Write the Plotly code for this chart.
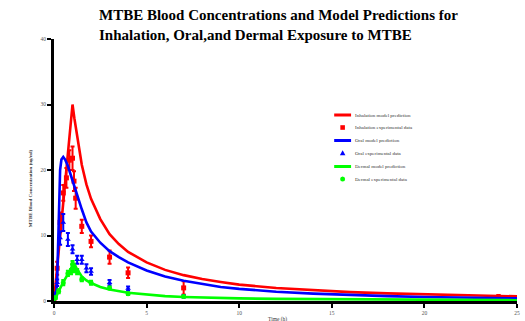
import plotly.graph_objects as go

# ---------------- data ----------------
inh_model_t = [0, 0.25, 0.5, 0.75, 1.0, 1.1, 1.25, 1.5, 1.75, 2.0, 2.5, 3.0, 3.5, 4.0, 5.0, 6.0, 7.0,
               8.0, 9.0, 10, 12, 14, 16, 18, 20, 22, 24, 25]
inh_model_v = [0, 7.3, 14.8, 22.2, 30.0, 27.9, 25.2, 20.8, 17.8, 15.6, 12.5, 10.2, 8.7, 7.5, 5.9, 4.75, 3.95,
               3.35, 2.9, 2.5, 1.98, 1.62, 1.36, 1.16, 1.0, 0.87, 0.76, 0.72]

inh_exp_t = [0.0, 0.17, 0.33, 0.5, 0.67, 0.83, 1.0, 1.08, 1.17, 1.5, 2.0, 3.0, 4.0, 7.0, 24.0]
inh_exp_v = [0.3, 5.0, 12.0, 16.5, 18.8, 21.5, 21.8, 18.3, 15.7, 11.4, 9.1, 6.7, 4.3, 2.0, 0.6]
inh_exp_e = [0.2, 1.0, 1.5, 1.2, 1.5, 1.5, 1.8, 1.5, 1.6, 1.0, 0.9, 1.0, 0.8, 1.0, 0.3]

oral_model_t = [0, 0.1, 0.17, 0.22, 0.27, 0.33, 0.4, 0.5, 0.6, 0.75, 1.0, 1.25, 1.5, 1.75, 2.0, 2.5, 3.0,
                3.5, 4.0, 5.0, 6.0, 7.0, 8.0, 9.0, 10, 12, 14, 16, 18, 20, 22, 24, 25]
oral_model_v = [0, 0.6, 3.0, 9.5, 16.0, 20.0, 21.6, 22.0, 21.6, 20.6, 18.4, 16.1, 14.0, 12.0, 10.6, 8.9, 7.6,
                6.7, 5.9, 4.65, 3.75, 3.1, 2.6, 2.15, 1.85, 1.42, 1.12, 0.9, 0.74, 0.62, 0.52, 0.44, 0.41]

oral_exp_t = [0.08, 0.17, 0.33, 0.5, 0.75, 1.0, 1.25, 1.5, 1.75, 2.0, 3.0, 4.0, 7.0]
oral_exp_v = [1.0, 2.8, 9.6, 12.0, 9.4, 7.9, 6.3, 6.3, 5.0, 4.5, 2.8, 1.9, 0.7]
oral_exp_e = [0.3, 0.5, 1.0, 1.3, 1.0, 0.6, 0.6, 0.6, 0.6, 0.5, 0.4, 0.3, 0.2]

derm_model_t = [0, 0.25, 0.5, 0.75, 1.0, 1.08, 1.25, 1.5, 1.75, 2.0, 2.5, 3.0, 4.0, 5.0, 6.0, 7.0, 8.0,
                10, 12, 15, 18, 21, 25]
derm_model_v = [0, 1.5, 2.9, 4.1, 5.5, 5.8, 4.8, 3.75, 3.15, 2.75, 2.15, 1.75, 1.25, 0.95, 0.75, 0.62, 0.52,
                0.4, 0.32, 0.25, 0.2, 0.16, 0.12]

derm_exp_t = [0.08, 0.25, 0.5, 0.75, 0.92, 1.0, 1.08, 1.25, 1.5, 2.0, 3.0, 4.0, 7.0]
derm_exp_v = [0.5, 1.5, 2.8, 4.2, 4.5, 5.6, 4.8, 4.5, 3.3, 2.8, 2.0, 1.1, 0.7]
derm_exp_e = [0.2, 0.3, 0.4, 0.4, 0.4, 0.5, 0.4, 0.4, 0.3, 0.3, 0.2, 0.2, 0.1]

x_ticks = [0, 5, 10, 15, 20, 25]
y_ticks = [0, 10, 20, 30, 40]

legend_names = ["Inhalation model prediction", "Inhalation experimental data",
                "Oral model prediction", "Oral experimental data",
                "Dermal model prediction", "Dermal experimental data"]

title_text = ("<b>MTBE Blood Concentrations and Model Predictions for<br>"
              "Inhalation, Oral,and Dermal Exposure to MTBE</b>")

RED, BLUE, GREEN = "#ff0000", "#0000ff", "#00ff00"
SERIF = "Liberation Serif"

fig = go.Figure()

def model(t, v, c, name):
    fig.add_trace(go.Scatter(x=t, y=v, mode="lines", name=name, showlegend=False,
                             line=dict(color=c, width=2.6)))

def exp(t, v, e, c, sym, name):
    fig.add_trace(go.Scatter(x=t, y=v, mode="markers", name=name, showlegend=False,
                             marker=dict(color=c, symbol=sym, size=5, line=dict(width=0)),
                             error_y=dict(type="data", array=e, color=c, thickness=2, width=2)))

model(inh_model_t, inh_model_v, RED, legend_names[0])
exp(inh_exp_t, inh_exp_v, inh_exp_e, RED, "square", legend_names[1])
model(oral_model_t, oral_model_v, BLUE, legend_names[2])
exp(oral_exp_t, oral_exp_v, oral_exp_e, BLUE, "triangle-up", legend_names[3])
model(derm_model_t, derm_model_v, GREEN, legend_names[4])
exp(derm_exp_t, derm_exp_v, derm_exp_e, GREEN, "circle", legend_names[5])

W, H = 525, 321
L, R, T, B = 54, 5, 39, 20
pw, ph = W - L - R, H - T - B

def px(x):
    return (x - L) / pw

def py(y):
    return (H - B - y) / ph

# manual compact legend
shapes = []
annotations = []
leg_y = [115, 127.5, 140.5, 153, 166.5, 179]
leg_col = [RED, RED, BLUE, BLUE, GREEN, GREEN]
for i, (name, yy, c) in enumerate(zip(legend_names, leg_y, leg_col)):
    if i % 2 == 0:
        shapes.append(dict(type="line", xref="paper", yref="paper", x0=px(336), x1=px(353),
                           y0=py(yy), y1=py(yy), line=dict(color=c, width=3)))
    else:
        cx = 344.5
        if i == 1:
            shapes.append(dict(type="rect", xref="paper", yref="paper", x0=px(cx - 2.3), x1=px(cx + 2.3),
                               y0=py(yy + 2.3), y1=py(yy - 2.3), fillcolor=c, line=dict(width=0)))
        elif i == 3:
            path = "M %f,%f L %f,%f L %f,%f Z" % (px(cx - 2.8), py(yy + 2.3), px(cx + 2.8), py(yy + 2.3),
                                                  px(cx), py(yy - 2.8))
            shapes.append(dict(type="path", xref="paper", yref="paper", path=path, fillcolor=c,
                               line=dict(width=0)))
        else:
            shapes.append(dict(type="circle", xref="paper", yref="paper", x0=px(cx - 2.5), x1=px(cx + 2.5),
                               y0=py(yy + 2.5), y1=py(yy - 2.5), fillcolor=c, line=dict(width=0)))
    annotations.append(dict(text=name, xref="paper", yref="paper", x=px(355), y=py(yy),
                            xanchor="left", yanchor="middle", showarrow=False,
                            font=dict(family=SERIF, size=5, color="#333333")))

# title
annotations.append(dict(text=title_text, xref="paper", yref="paper", x=px(97), y=py(5),
                        xanchor="left", yanchor="top", align="left", showarrow=False,
                        font=dict(family=SERIF, size=15, color="black")))

# axis titles
annotations.append(dict(text="<b>MTBE Blood Concentration (ug/ml)</b>", xref="paper", yref="paper",
                        x=px(30), y=py(188), textangle=-90, showarrow=False,
                        xanchor="center", yanchor="middle",
                        font=dict(family=SERIF, size=5, color="#333333")))
annotations.append(dict(text="Time (h)", xref="paper", yref="paper",
                        x=px(279), y=py(319), showarrow=False,
                        xanchor="center", yanchor="middle",
                        font=dict(family=SERIF, size=5.5, color="#333333")))

axis_common = dict(showline=True, linewidth=3, linecolor="black", ticks="outside", ticklen=4,
                   tickwidth=2, tickcolor="black", showgrid=False, zeroline=False,
                   tickfont=dict(family=SERIF, size=5.5, color="#555555"))

fig.update_layout(
    width=W, height=H,
    margin=dict(l=L, r=R, t=T, b=B),
    paper_bgcolor="white", plot_bgcolor="white",
    xaxis=dict(range=[0, 25], tickvals=x_ticks, **axis_common),
    yaxis=dict(range=[0, 40], tickvals=y_ticks, **axis_common),
    shapes=shapes,
    annotations=annotations,
    showlegend=False,
)

fig.write_html("out.html")
